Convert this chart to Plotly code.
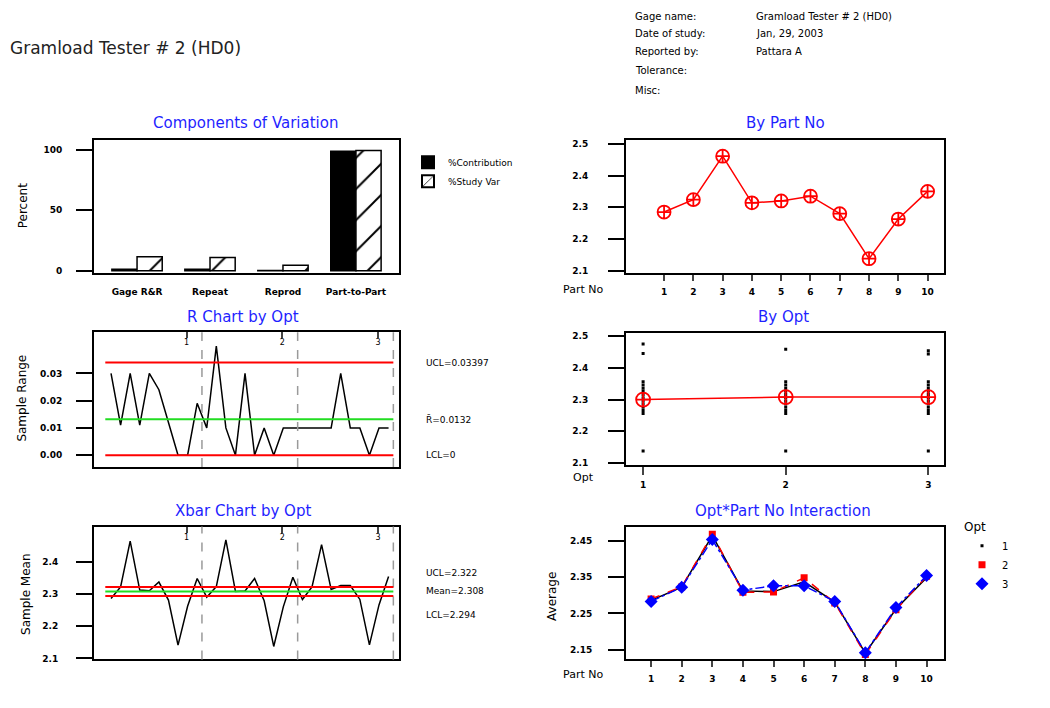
import plotly.graph_objects as go

W, H = 1050, 708

# ---------------- data ----------------
components = ["Gage R&R", "Repeat", "Reprod", "Part-to-Part"]
pct_contribution = [1.3, 1.2, 0.2, 98.7]
pct_study_var = [11.5, 11.0, 4.5, 99.3]

parts = [1, 2, 3, 4, 5, 6, 7, 8, 9, 10]
part_means = [2.285, 2.324, 2.461, 2.314, 2.320, 2.335, 2.280, 2.138, 2.263, 2.350]

operators = [1, 2, 3]
operator_means = [2.300, 2.308, 2.308]
opt1_points = [2.475, 2.445, 2.356, 2.346, 2.336, 2.326, 2.316, 2.306, 2.296, 2.286, 2.276, 2.266, 2.256, 2.138]
opt2_points = [2.459, 2.356, 2.346, 2.336, 2.326, 2.316, 2.306, 2.296, 2.286, 2.276, 2.266, 2.256, 2.138]
opt3_points = [2.454, 2.444, 2.356, 2.346, 2.336, 2.326, 2.316, 2.306, 2.296, 2.286, 2.276, 2.266, 2.256, 2.138]

# operator x part averages (Xbar chart & interaction plot)
op1_avg = [2.286, 2.322, 2.464, 2.312, 2.310, 2.337, 2.281, 2.141, 2.262, 2.348]
op2_avg = [2.290, 2.323, 2.468, 2.308, 2.309, 2.348, 2.279, 2.137, 2.260, 2.352]
op3_avg = [2.283, 2.322, 2.453, 2.314, 2.326, 2.326, 2.283, 2.142, 2.266, 2.354]

# ranges by operator x part (R chart)
op1_range = [0.030, 0.011, 0.030, 0.011, 0.030, 0.024, 0.012, 0.000, 0.000, 0.019]
op2_range = [0.010, 0.040, 0.010, 0.000, 0.030, 0.000, 0.010, 0.000, 0.010, 0.010]
op3_range = [0.010, 0.010, 0.010, 0.010, 0.030, 0.010, 0.010, 0.000, 0.010, 0.010]

r_ucl, r_bar, r_lcl = 0.03397, 0.0132, 0.0
x_ucl, x_mean, x_lcl = 2.322, 2.308, 2.294
r_labels = ["UCL=0.03397", "R\u0304=0.0132", "LCL=0"]
x_labels = ["UCL=2.322", "Mean=2.308", "LCL=2.294"]

header_keys = ["Gage name:", "Date of study:", "Reported by:", "Tolerance:", "Misc:"]
header_vals = ["Gramload Tester # 2 (HD0)", "Jan, 29, 2003", "Pattara A", "", ""]

# ---------------- helpers ----------------
def xd(a, b):
    return [a / W, b / W]

def yd(top, bottom):
    return [1 - bottom / H, 1 - top / H]

def px(x):
    return x / W

def py(y):
    return 1 - y / H

n_parts = len(parts)
seq = list(range(1, 3 * n_parts + 1))
xbar_seq = op1_avg + op2_avg + op3_avg
range_seq = op1_range + op2_range + op3_range
group_bounds = [(k + 1) * n_parts + 0.5 for k in range(3)]
op_tick_pos = [(k + 1) * n_parts - 1.1 for k in range(3)]

TICKF = dict(family="DejaVu Sans", size=9, color="black", weight="bold")
TITLEF = dict(family="DejaVu Sans", size=15, color="#1f1fff")
LBLF = dict(family="DejaVu Sans", size=12, color="black")

fig = go.Figure()

# ---- Components of variation ----
fig.add_trace(go.Bar(x=list(range(len(components))), y=pct_contribution, name="%Contribution",
                     marker=dict(color="black", line=dict(color="black", width=1.5)),
                     xaxis="x", yaxis="y", legend="legend"))
fig.add_trace(go.Bar(x=list(range(len(components))), y=pct_study_var, name="%Study Var",
                     marker=dict(color="white", line=dict(color="black", width=1.5),
                                 pattern=dict(shape="/", fgcolor="black", bgcolor="white",
                                              size=22, solidity=0.09, fgopacity=1)),
                     xaxis="x", yaxis="y", legend="legend"))

# ---- By Part No ----
fig.add_trace(go.Scatter(x=parts, y=part_means, mode="lines+markers",
                         line=dict(color="red", width=1.5),
                         marker=dict(symbol="circle-cross-open", size=13, color="red",
                                     line=dict(width=1.8, color="red")),
                         xaxis="x2", yaxis="y2", showlegend=False))

# ---- R chart ----
fig.add_trace(go.Scatter(x=seq, y=range_seq, mode="lines", line=dict(color="black", width=1.5),
                         xaxis="x3", yaxis="y3", showlegend=False))
fig.add_trace(go.Scatter(x=[None], y=[None], xaxis="x7", yaxis="y3", showlegend=False, hoverinfo="skip"))

# ---- By Opt ----
dot_x, dot_y = [], []
for op, pts in zip(operators, [opt1_points, opt2_points, opt3_points]):
    dot_x += [op] * len(pts)
    dot_y += pts
fig.add_trace(go.Scatter(x=dot_x, y=dot_y, mode="markers",
                         marker=dict(symbol="square", size=3, color="black"),
                         xaxis="x4", yaxis="y4", showlegend=False))
fig.add_trace(go.Scatter(x=operators, y=operator_means, mode="lines+markers",
                         line=dict(color="red", width=1.5),
                         marker=dict(symbol="circle-cross-open", size=14, color="red",
                                     line=dict(width=1.8, color="red")),
                         xaxis="x4", yaxis="y4", showlegend=False))

# ---- Xbar chart ----
fig.add_trace(go.Scatter(x=seq, y=xbar_seq, mode="lines", line=dict(color="black", width=1.5),
                         xaxis="x5", yaxis="y5", showlegend=False))
fig.add_trace(go.Scatter(x=[None], y=[None], xaxis="x8", yaxis="y5", showlegend=False, hoverinfo="skip"))

# ---- Interaction ----
fig.add_trace(go.Scatter(x=parts, y=op1_avg, mode="lines+markers",
                         line=dict(color="black", width=1.5),
                         marker=dict(symbol="square", size=3, color="black"),
                         xaxis="x6", yaxis="y6", showlegend=False))
fig.add_trace(go.Scatter(x=parts, y=op2_avg, mode="lines+markers",
                         line=dict(color="red", width=1.5, dash="dash"),
                         marker=dict(symbol="square", size=7, color="red"),
                         xaxis="x6", yaxis="y6", showlegend=False))
fig.add_trace(go.Scatter(x=parts, y=op3_avg, mode="lines+markers",
                         line=dict(color="blue", width=1.5, dash="dashdot"),
                         marker=dict(symbol="diamond", size=10, color="blue"),
                         xaxis="x6", yaxis="y6", showlegend=False))
for name, sym, sz, col in [("1", "square", 3, "black"), ("2", "square", 7, "red"), ("3", "diamond", 10, "blue")]:
    fig.add_trace(go.Scatter(x=[None], y=[None], mode="markers", name=name,
                             marker=dict(symbol=sym, size=sz, color=col),
                             xaxis="x6", yaxis="y6", legend="legend2"))

# ---------------- axes ----------------
frame = dict(showline=True, mirror=True, linewidth=2, linecolor="black", showgrid=False,
             zeroline=False, tickfont=TICKF, fixedrange=True)
ytick = dict(ticks="outside", ticklen=16, tickwidth=2, tickcolor="black")

L, R = 94, 399
L2, R2 = 626, 944
rng_seq = [-0.78, 31.09]

layout_axes = dict(
    xaxis=dict(domain=xd(L, R), anchor="y", range=[-0.59, 3.59], tickvals=list(range(len(components))),
               ticktext=components, ticks="outside", ticklen=10, tickcolor="rgba(0,0,0,0)", **frame),
    yaxis=dict(domain=yd(139, 273), anchor="x", range=[-1.6, 108.2], tickvals=[0, 50, 100],
               ticklabelstandoff=12, **ytick, **frame),
    xaxis2=dict(domain=xd(L2, R2), anchor="y2", range=[-0.3, 10.56], tickvals=parts,
                ticks="outside", ticklen=6, tickwidth=2, ticklabelstandoff=4, **frame),
    yaxis2=dict(domain=yd(139, 273), anchor="x2", range=[2.094, 2.5125],
                tickvals=[2.1, 2.2, 2.3, 2.4, 2.5], tickformat=".1f", ticklabelstandoff=18, **ytick, **frame),
    xaxis3=dict(domain=xd(L, R), anchor="y3", range=rng_seq, showticklabels=False, ticks="", **frame),
    yaxis3=dict(domain=yd(333, 469), anchor="x3", range=[-0.00436, 0.0451],
                tickvals=[0, 0.01, 0.02, 0.03, 0.04], tickformat=".2f", ticklabelstandoff=12, **ytick, **frame),
    xaxis7=dict(overlaying="x3", side="top", anchor="y3", range=rng_seq, tickvals=op_tick_pos,
                ticktext=["1", "2", "3"], ticks="inside", ticklen=6, tickwidth=2,
                ticklabelposition="inside", showgrid=False, zeroline=False,
                tickfont=dict(family="DejaVu Sans", size=8, color="black"), showline=False, fixedrange=True),
    xaxis4=dict(domain=xd(L2, R2), anchor="y4", range=[0.88, 3.11], tickvals=operators,
                ticks="outside", ticklen=8, tickwidth=2, ticklabelstandoff=2, **frame),
    yaxis4=dict(domain=yd(334, 467), anchor="x4", range=[2.0938, 2.5094],
                tickvals=[2.1, 2.2, 2.3, 2.4, 2.5], tickformat=".1f", ticklabelstandoff=18, **ytick, **frame),
    xaxis5=dict(domain=xd(L, R), anchor="y5", range=rng_seq, showticklabels=False, ticks="", **frame),
    yaxis5=dict(domain=yd(529, 663), anchor="x5", range=[2.0969, 2.5094],
                tickvals=[2.1, 2.2, 2.3, 2.4, 2.5], tickformat=".1f", ticklabelstandoff=16, **ytick, **frame),
    xaxis8=dict(overlaying="x5", side="top", anchor="y5", range=rng_seq, tickvals=op_tick_pos,
                ticktext=["1", "2", "3"], ticks="inside", ticklen=6, tickwidth=2,
                ticklabelposition="inside", showgrid=False, zeroline=False,
                tickfont=dict(family="DejaVu Sans", size=8, color="black"), showline=False, fixedrange=True),
    xaxis6=dict(domain=xd(L2, R2), anchor="y6", range=[0.18, 10.57], tickvals=parts,
                ticks="outside", ticklen=6, tickwidth=2, ticklabelstandoff=4, **frame),
    yaxis6=dict(domain=yd(529, 663), anchor="x6", range=[2.1236, 2.489],
                tickvals=[2.15, 2.25, 2.35, 2.45], tickformat=".2f", ticklabelstandoff=14, **ytick, **frame),
)

# ---------------- shapes ----------------
shapes = []
for xa, ya in [("x3", "y3"), ("x5", "y5")]:
    for gb in group_bounds:
        shapes.append(dict(type="line", xref=xa, yref=ya + " domain", x0=gb, x1=gb, y0=0, y1=1,
                           line=dict(color="#9a9a9a", width=1.5, dash="dash")))
lim_x0, lim_x1 = 0.4, group_bounds[-1]
for val, col in [(r_ucl, "red"), (r_bar, "#22dd22"), (r_lcl, "red")]:
    shapes.append(dict(type="line", xref="x3", yref="y3", x0=lim_x0, x1=lim_x1, y0=val, y1=val,
                       line=dict(color=col, width=2)))
for val, col in [(x_ucl, "red"), (x_mean, "#22dd22"), (x_lcl, "red")]:
    shapes.append(dict(type="line", xref="x5", yref="y5", x0=lim_x0, x1=lim_x1, y0=val, y1=val,
                       line=dict(color=col, width=2)))

# ---------------- annotations ----------------
ann = []
def text(x, y, s, font, xanchor="left", yanchor="middle", angle=0):
    ann.append(dict(x=px(x), y=py(y), xref="paper", yref="paper", text=s, showarrow=False,
                    font=font, xanchor=xanchor, yanchor=yanchor, textangle=angle))

text(8, 46, "Gramload Tester # 2 (HD0)", dict(family="DejaVu Sans", size=17, color="#222"))
hf = dict(family="DejaVu Sans", size=10, color="black")
for i, (k, v) in enumerate(zip(header_keys, header_vals)):
    yy = [15, 32, 50, 69, 89][i]
    text(633, yy, k, hf)
    text(754, yy, v, hf)

for cx, cy, t in [(245, 122, "Components of Variation"), (785, 122, "By Part No"),
                  (243, 318, "R Chart by Opt"), (783, 318, "By Opt"),
                  (243, 513, "Xbar Chart by Opt"), (783, 513, "Opt*Part No Interaction")]:
    text(cx, cy, t, TITLEF, xanchor="center")

text(23, 206, "Percent", LBLF, xanchor="center", angle=-90)
text(22, 400, "Sample Range", LBLF, xanchor="center", angle=-90)
text(26, 597, "Sample Mean", LBLF, xanchor="center", angle=-90)
text(552, 600, "Average", LBLF, xanchor="center", angle=-90)
pf = dict(family="DejaVu Sans", size=11, color="black")
text(583, 290, "Part No", pf, xanchor="center")
text(583, 480, "Opt", pf, xanchor="center")
text(583, 678, "Part No", pf, xanchor="center")

lf = dict(family="DejaVu Sans", size=9, color="black")
for val, lab in zip([r_ucl, r_bar, r_lcl], r_labels):
    ann.append(dict(x=px(424), y=val, xref="paper", yref="y3", text=lab, showarrow=False,
                    font=lf, xanchor="left", yanchor="middle"))
for val, lab, dy in zip([x_ucl, x_mean, x_lcl], x_labels, [-14, 0, 19]):
    ann.append(dict(x=px(424), y=val, xref="paper", yref="y5", text=lab, showarrow=False,
                    font=lf, xanchor="left", yanchor="middle", yshift=-dy))

fig.update_layout(
    width=W, height=H, autosize=False, margin=dict(l=0, r=0, t=0, b=0),
    paper_bgcolor="white", plot_bgcolor="white",
    barmode="group", bargap=0.31, bargroupgap=0,
    shapes=shapes, annotations=ann,
    legend=dict(x=px(408), y=py(147), xanchor="left", yanchor="top", bgcolor="rgba(0,0,0,0)",
                font=dict(family="DejaVu Sans", size=9, color="black"), tracegroupgap=0,
                itemsizing="constant"),
    legend2=dict(x=px(962), y=py(518), xanchor="left", yanchor="top", bgcolor="rgba(0,0,0,0)",
                 title=dict(text="Opt", font=dict(family="DejaVu Sans", size=12, color="black")),
                 font=dict(family="DejaVu Sans", size=10, color="black")),
    **layout_axes,
)

fig.write_html("out.html", config={"displayModeBar": False},
               post_script="document.body.style.margin='0';document.body.style.padding='0';"
                           "document.body.style.overflow='hidden';")
